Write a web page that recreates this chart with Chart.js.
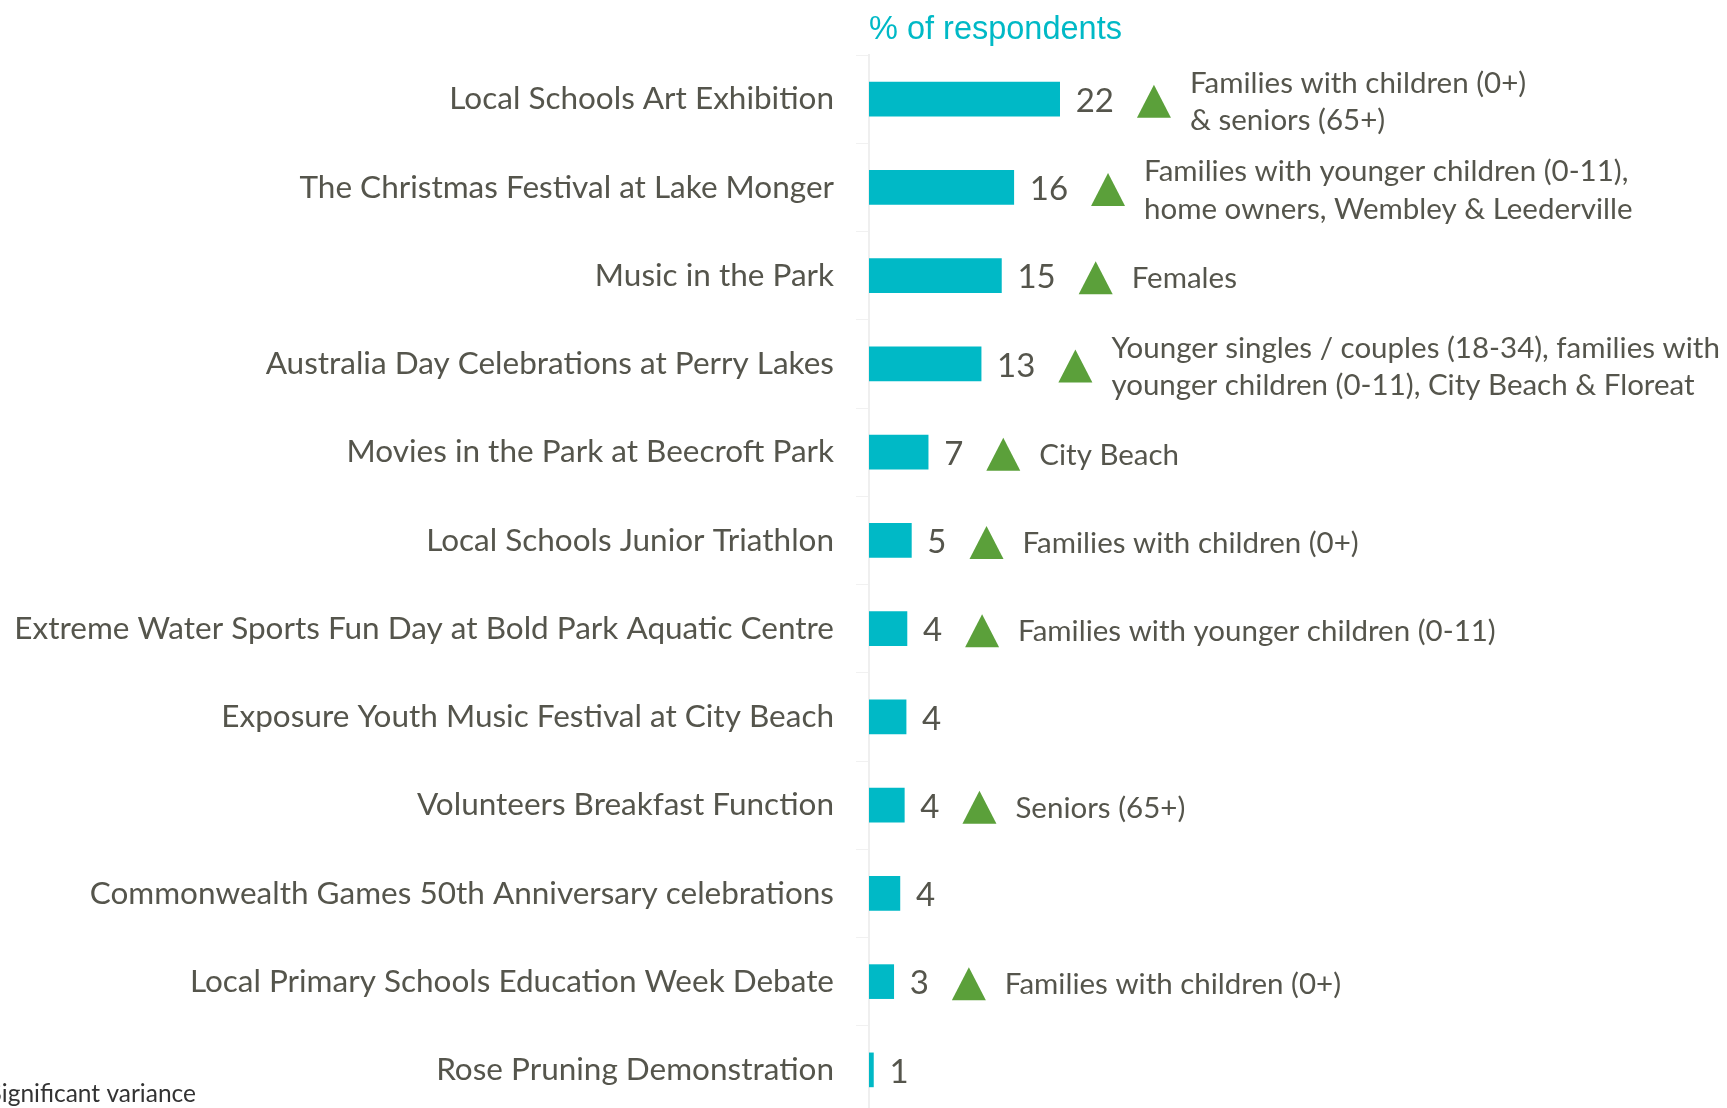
<!DOCTYPE html>
<html>
<head>
<meta charset="utf-8">
<script src="https://cdn.jsdelivr.net/npm/chart.js@4.4.1/dist/chart.umd.min.js"></script>
<style>
  html, body { margin: 0; padding: 0; background: #fff; overflow: hidden; }
  #wrap { position: relative; width: 1727px; height: 1108px; overflow: hidden; }
  #eventsChart { position: absolute; left: 0; top: 0; }
</style>
</head>
<body>
<div id="wrap"><canvas id="eventsChart" width="1727" height="1114"></canvas></div>
<script>
const categories = [
    "Local Schools Art Exhibition",
    "The Christmas Festival at Lake Monger",
    "Music in the Park",
    "Australia Day Celebrations at Perry Lakes",
    "Movies in the Park at Beecroft Park",
    "Local Schools Junior Triathlon",
    "Extreme Water Sports Fun Day at Bold Park Aquatic Centre",
    "Exposure Youth Music Festival at City Beach",
    "Volunteers Breakfast Function",
    "Commonwealth Games 50th Anniversary celebrations",
    "Local Primary Schools Education Week Debate",
    "Rose Pruning Demonstration"
];
// bar lengths, printed labels as shown
const values = [21.6, 16.4, 15.0, 12.7, 6.7, 4.8, 4.3, 4.2, 4.0, 3.5, 2.8, 0.5];
const valueLabels = ["22", "16", "15", "13", "7", "5", "4", "4", "4", "4", "3", "1"];
const notes = [
    ["Families with children (0+)", "& seniors (65+)"],
    ["Families with younger children (0-11),", "home owners, Wembley & Leederville"],
    ["Females"],
    ["Younger singles / couples (18-34), families with", "younger children (0-11), City Beach & Floreat"],
    ["City Beach"],
    ["Families with children (0+)"],
    ["Families with younger children (0-11)"],
    [],
    ["Seniors (65+)"],
    [],
    ["Families with children (0+)"],
    []
];

const TEAL = "#00b9c6";
const GREEN = "#5ba03a";
const TEXT = "#55554c";
const FONT = "Lato, 'Open Sans', sans-serif";

const annotations = {
    id: "annotations",
    afterDatasetsDraw(chart) {
        const ctx = chart.ctx;
        const meta = chart.getDatasetMeta(0);
        ctx.save();
        ctx.textBaseline = "middle";
        meta.data.forEach((bar, i) => {
            const y = bar.y + 2;
            ctx.font = "33px " + FONT;
            ctx.fillStyle = TEXT;
            ctx.textAlign = "left";
            const lx = bar.x + 16;
            ctx.fillText(valueLabels[i], lx, y);
            if (!notes[i].length) return;
            const w = ctx.measureText(valueLabels[i]).width;
            const tx = lx + w + 23;
            ctx.fillStyle = GREEN;
            ctx.beginPath();
            ctx.moveTo(tx, y + 16.5);
            ctx.lineTo(tx + 34, y + 16.5);
            ctx.lineTo(tx + 17, y - 16.5);
            ctx.closePath();
            ctx.fill();
            ctx.font = "29.5px " + FONT;
            ctx.fillStyle = TEXT;
            const nx = tx + 34 + 19;
            const lines = notes[i];
            const lh = 37.5;
            lines.forEach((t, k) => {
                ctx.fillText(t, nx, y + (k - (lines.length - 1) / 2) * lh + 1);
            });
        });
        // heading over the bars
        ctx.font = "32.5px 'Liberation Sans', Arial, sans-serif";
        ctx.fillStyle = TEAL;
        ctx.textAlign = "left";
        ctx.fillText("% of respondents", chart.chartArea.left, 30);
        // legend note clipped at the left edge
        ctx.font = "24.5px " + FONT;
        ctx.fillStyle = "#333";
        ctx.textAlign = "right";
        ctx.fillText("Significant variance", 196, 1094);
        ctx.restore();
    }
};

new Chart(document.getElementById("eventsChart"), {
    type: "bar",
    data: {
        labels: categories,
        datasets: [{
            data: values,
            backgroundColor: TEAL,
            barThickness: 34
        }]
    },
    options: {
        indexAxis: "y",
        responsive: false,
        animation: false,
        layout: { padding: { top: 55, bottom: 0, left: 0, right: 0 } },
        plugins: {
            legend: { display: false },
            tooltip: { enabled: false }
        },
        scales: {
            x: {
                display: false,
                min: 0,
                max: 97.2
            },
            y: {
                afterFit: (scale) => {
                    scale.width = 869;
                    scale.paddingTop = 0;
                    scale.paddingBottom = 0;
                },
                grid: {
                    drawOnChartArea: false,
                    drawTicks: true,
                    tickLength: 13,
                    color: "#f1f1f1"
                },
                border: { color: "#efefef", width: 2 },
                ticks: {
                    padding: 22,
                    color: TEXT,
                    font: { family: FONT, size: 31.5 }
                }
            }
        }
    },
    plugins: [annotations]
});
</script>
</body>
</html>
